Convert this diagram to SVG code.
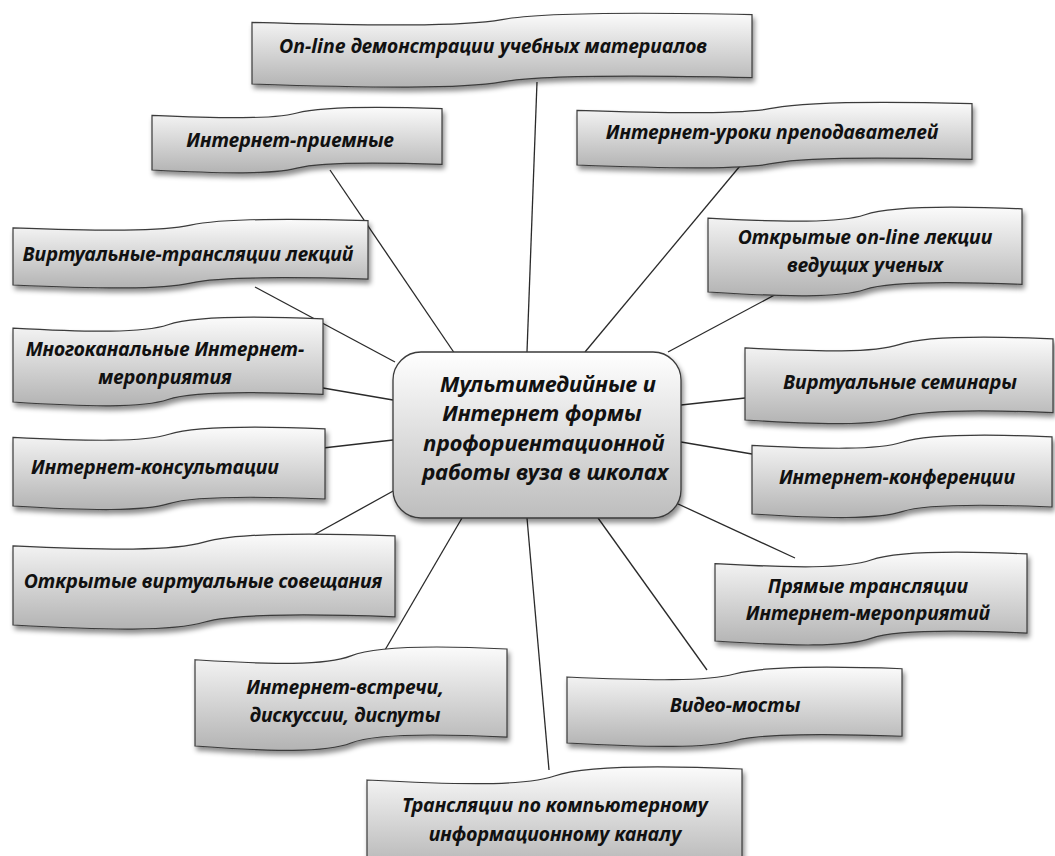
<svg xmlns="http://www.w3.org/2000/svg" xmlns:xlink="http://www.w3.org/1999/xlink" width="1055" height="856" viewBox="0 0 1055 856">
<style>
.lbl{font-family:"Noto Sans","Liberation Sans",sans-serif;font-weight:bold;font-style:italic;font-size:19.5px;fill:#111;text-anchor:middle}
.ctr{font-size:22px}
.wave{fill:url(#g);stroke:#3a3a3a;stroke-width:1.2;vector-effect:non-scaling-stroke}
.conn line{stroke:#2a2a2a;stroke-width:1.3}
</style>
<defs>
<linearGradient id="g" x1="0" y1="0" x2="0" y2="1">
<stop offset="0" stop-color="#fbfbfb"/>
<stop offset="1" stop-color="#b3b3b3"/>
</linearGradient>
<linearGradient id="gc" x1="0" y1="0" x2="0" y2="1">
<stop offset="0" stop-color="#ffffff"/>
<stop offset="1" stop-color="#bdbdbd"/>
</linearGradient>
<filter id="sh" x="-10%" y="-20%" width="125%" height="150%">
<feDropShadow dx="2" dy="4" stdDeviation="2.5" flood-color="#000" flood-opacity="0.45"/>
</filter>
<path id="wv" class="wave" d="M0,12 C25,17 42,18 50,8 C57,-1 75,-3 100,1 L100,91 C75,87 57,88 50,97 C42,107 25,106 0,100 Z"/>
</defs>
<rect width="1055" height="856" fill="#ffffff"/>
<g class="conn" id="connectors">
<line x1="527" y1="352" x2="537" y2="82"/>
<line x1="455" y1="354" x2="330" y2="170"/>
<line x1="585" y1="352" x2="740" y2="166"/>
<line x1="395" y1="362" x2="255" y2="287"/>
<line x1="668" y1="352" x2="782" y2="291"/>
<line x1="393" y1="400" x2="323" y2="388"/>
<line x1="681" y1="405" x2="745" y2="398"/>
<line x1="681" y1="442" x2="752" y2="454"/>
<line x1="393" y1="440" x2="323" y2="448"/>
<line x1="395" y1="490" x2="310" y2="537"/>
<line x1="663" y1="497" x2="795" y2="558"/>
<line x1="598" y1="518" x2="707" y2="670"/>
<line x1="527" y1="518" x2="549" y2="770"/>
<line x1="462" y1="518" x2="385" y2="650"/>
</g>
<g id="center" filter="url(#sh)">
<rect x="393" y="352" width="288" height="166" rx="28" fill="url(#gc)" stroke="#3a3a3a" stroke-width="1.3"/>
</g>
<g id="center-text">
<text class="lbl ctr" x="548" y="392">Мультимедийные и</text>
<text class="lbl ctr" x="542" y="421">Интернет формы</text>
<text class="lbl ctr" x="544" y="451">профориентационной</text>
<text class="lbl ctr" x="545" y="480">работы вуза в школах</text>
</g>
<g id="n1"><g filter="url(#sh)"><use xlink:href="#wv" transform="translate(252,14) scale(5.0,0.7)"/></g>
<text class="lbl" x="493" y="53">On-line демонстрации учебных материалов</text></g>
<g id="n2"><g filter="url(#sh)"><use xlink:href="#wv" transform="translate(152,108) scale(2.9,0.62)"/></g>
<text class="lbl" x="290" y="147">Интернет-приемные</text></g>
<g id="n3"><g filter="url(#sh)"><use xlink:href="#wv" transform="translate(577,103) scale(3.95,0.62)"/></g>
<text class="lbl" x="772" y="139">Интернет-уроки  преподавателей</text></g>
<g id="n4"><g filter="url(#sh)"><use xlink:href="#wv" transform="translate(13,220) scale(3.55,0.65)"/></g>
<text class="lbl" x="188" y="261">Виртуальные-трансляции  лекций</text></g>
<g id="n5"><g filter="url(#sh)"><use xlink:href="#wv" transform="translate(708,208) scale(3.14,0.84)"/></g>
<text class="lbl" x="865" y="244">Открытые on-line лекции</text>
<text class="lbl" x="865" y="272">ведущих ученых</text></g>
<g id="n6"><g filter="url(#sh)"><use xlink:href="#wv" transform="translate(13,318) scale(3.1,0.84)"/></g>
<text class="lbl" x="165" y="356">Многоканальные Интернет-</text>
<text class="lbl" x="165" y="384">мероприятия</text></g>
<g id="n8"><g filter="url(#sh)"><use xlink:href="#wv" transform="translate(745,338) scale(3.08,0.82)"/></g>
<text class="lbl" x="900" y="389">Виртуальные семинары</text></g>
<g id="n9"><g filter="url(#sh)"><use xlink:href="#wv" transform="translate(752,436) scale(3.0,0.78)"/></g>
<text class="lbl" x="897" y="484">Интернет-конференции</text></g>
<g id="n10"><g filter="url(#sh)"><use xlink:href="#wv" transform="translate(13,428) scale(3.12,0.78)"/></g>
<text class="lbl" x="155" y="474">Интернет-консультации</text></g>
<g id="n11"><g filter="url(#sh)"><use xlink:href="#wv" transform="translate(13,535) scale(3.82,0.9)"/></g>
<text class="lbl" x="203" y="588">Открытые виртуальные совещания</text></g>
<g id="n12"><g filter="url(#sh)"><use xlink:href="#wv" transform="translate(715,553) scale(3.12,0.88)"/></g>
<text class="lbl" x="868" y="593">Прямые трансляции</text>
<text class="lbl" x="868" y="620">Интернет-мероприятий</text></g>
<g id="n13"><g filter="url(#sh)"><use xlink:href="#wv" transform="translate(195,648) scale(3.12,0.98)"/></g>
<text class="lbl" x="345" y="694">Интернет-встречи,</text>
<text class="lbl" x="345" y="722">дискуссии, диспуты</text></g>
<g id="n14"><g filter="url(#sh)"><use xlink:href="#wv" transform="translate(567,668) scale(3.35,0.75)"/></g>
<text class="lbl" x="735" y="712">Видео-мосты</text></g>
<g id="n15"><g filter="url(#sh)"><use xlink:href="#wv" transform="translate(367,768) scale(3.75,1.0)"/></g>
<text class="lbl" x="555" y="812">Трансляции по компьютерному</text>
<text class="lbl" x="555" y="841">информационному каналу</text></g>
</svg>
